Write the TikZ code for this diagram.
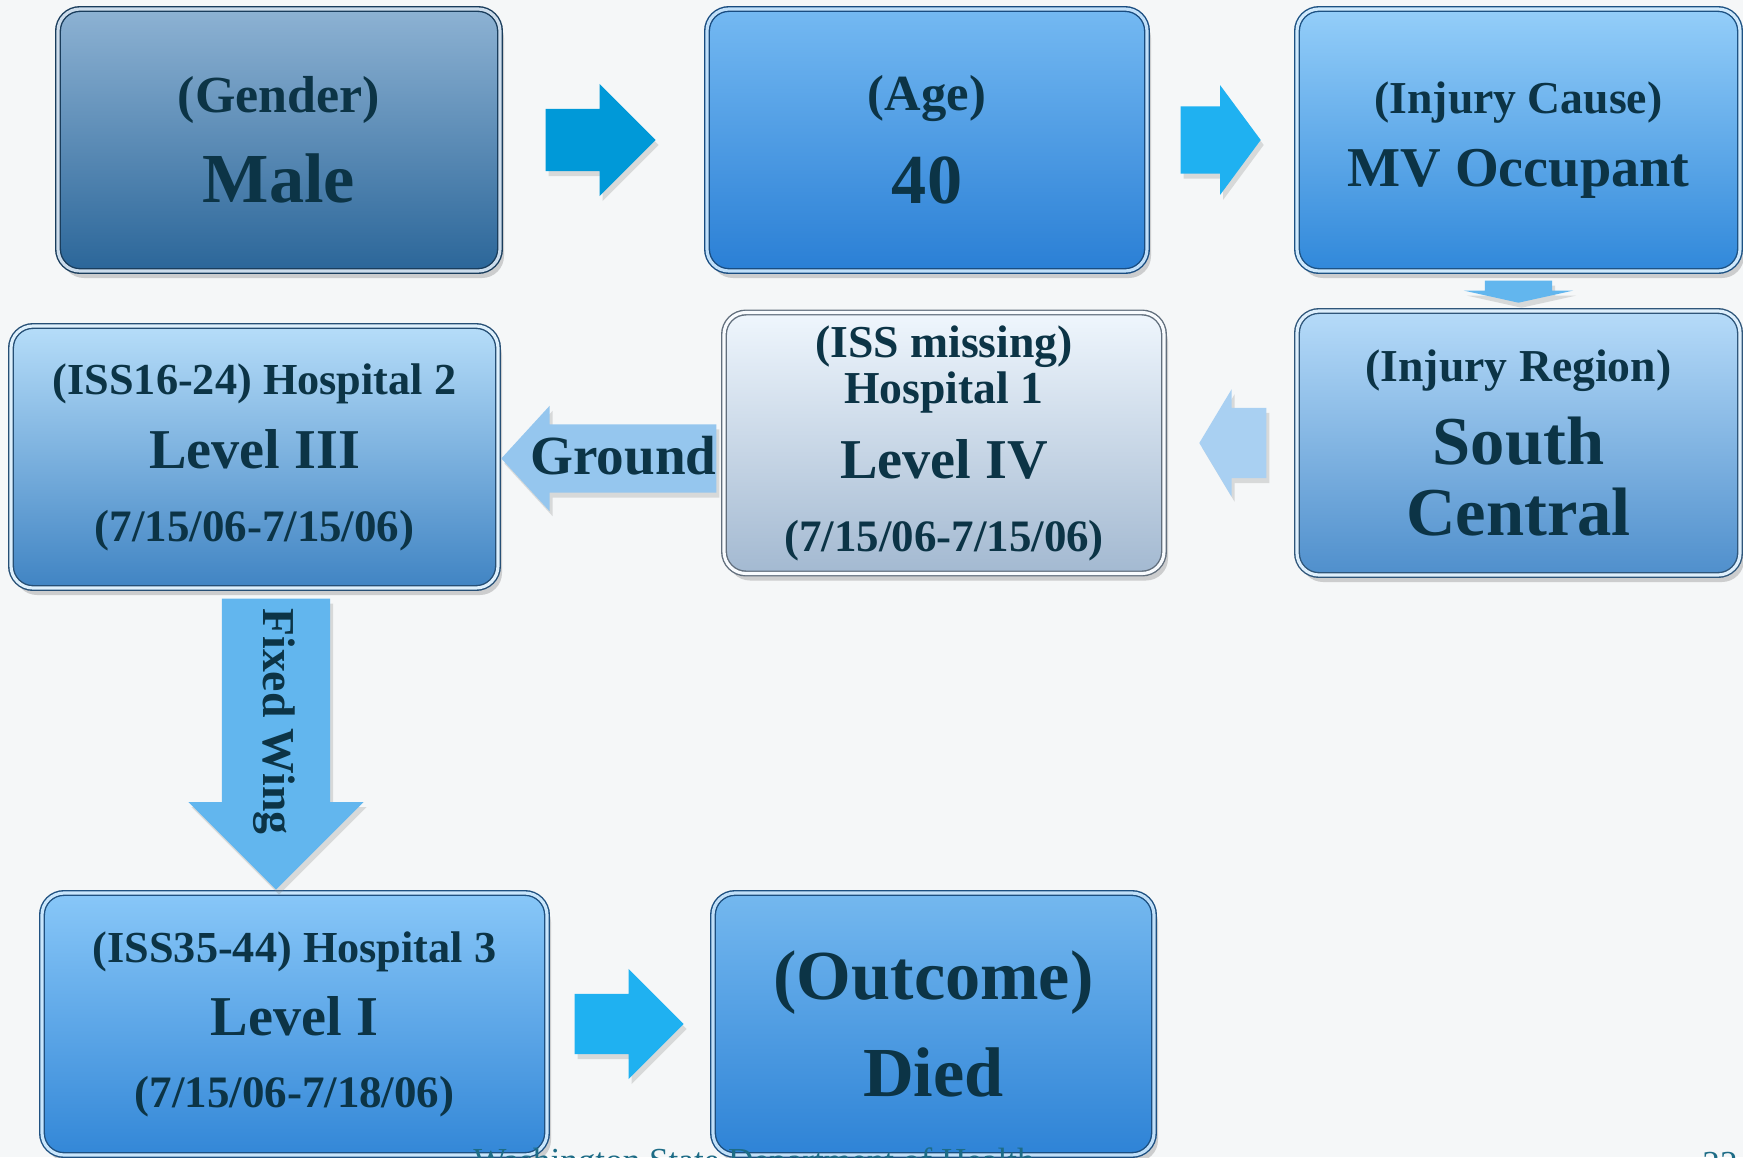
\documentclass[tikz,border=0pt]{standalone}
\usepackage{fontspec}
\setmainfont{Liberation Serif}
\usepackage{tikz}
\usetikzlibrary{shapes,arrows,positioning,shadows}
\usepackage{xcolor}

\definecolor{textdark}{HTML}{0C3446}
\definecolor{footteal}{HTML}{1D6C86}
\definecolor{pagebg}{HTML}{F5F7F8}
\definecolor{genderlight}{HTML}{8DB2D3}
\definecolor{genderdark}{HTML}{2B6699}
\definecolor{agelight}{HTML}{74B9F2}
\definecolor{agedark}{HTML}{2A7FD5}
\definecolor{causelight}{HTML}{94CEF9}
\definecolor{causedark}{HTML}{3088DA}
\definecolor{regionlight}{HTML}{B6DBF9}
\definecolor{regiondark}{HTML}{4F8FCC}
\definecolor{hosponelight}{HTML}{EFF6FD}
\definecolor{hosponedark}{HTML}{A3B9D1}
\definecolor{hosptwolight}{HTML}{B6DDF9}
\definecolor{hosptwodark}{HTML}{4084C3}
\definecolor{hospthreelight}{HTML}{88C7F8}
\definecolor{hospthreedark}{HTML}{3387D7}
\definecolor{outcomelight}{HTML}{74B8EF}
\definecolor{outcomedark}{HTML}{2E83D6}
\definecolor{arrowdeep}{HTML}{0099D8}
\definecolor{arrowbright}{HTML}{1FB1F1}
\definecolor{arrowsoft}{HTML}{62B6EE}
\definecolor{arrowpale}{HTML}{A9D0F2}
\definecolor{arrowground}{HTML}{95C6EE}

\begin{document}
\begin{tikzpicture}[
        node distance=6.48cm,
        box/.style 2 args={rectangle, rounded corners=0.22cm, minimum height=2.62cm, top color=#1, bottom color=#2, draw=#2!60!black, line width=0.4pt, double=#1!45!white, double distance=0.9pt, align=center, text=textdark, font=\bfseries, drop shadow={opacity=0.35, shadow xshift=0.04cm, shadow yshift=-0.07cm}},
        barrow/.style={single arrow, draw=none, inner xsep=0pt, outer sep=0pt, fill=#1, drop shadow={opacity=0.25, shadow xshift=0.03cm, shadow yshift=-0.05cm}},
        arrowtext/.style={text=textdark, font=\fontsize{15.7}{18}\selectfont\bfseries, inner sep=0pt},
        footer/.style={text=footteal, font=\fontsize{10}{12}\selectfont, inner sep=0pt}
    ]
    \useasboundingbox (0,0) rectangle (17.43,-11.57);
    \fill[pagebg] (0,0) rectangle (17.43,-11.57);

    \node [box={genderlight}{genderdark}, minimum width=4.42cm] at (2.79,-1.40) (gender) {{\fontsize{14.8}{17}\selectfont (Gender)}\\[7.5pt]{\fontsize{20}{24}\selectfont Male}};
    \node [box={agelight}{agedark}, minimum width=4.40cm, right of=gender] (age) {{\fontsize{14.4}{17}\selectfont (Age)}\\[9pt]{\fontsize{20}{24}\selectfont 40}};
    \node [box={causelight}{causedark}, minimum width=4.43cm, right of=age, node distance=5.915cm] (cause) {{\fontsize{13}{16}\selectfont (Injury Cause)}\\[6.5pt]{\fontsize{16}{19}\selectfont MV Occupant}};
    \node [box={regionlight}{regiondark}, minimum width=4.43cm, minimum height=2.64cm, below of=cause, node distance=3.03cm] (region) {{\fontsize{13}{16}\selectfont (Injury Region)}\\[6pt]{\fontsize{19.5}{20}\selectfont South}\\[5.5pt]{\fontsize{19.5}{20}\selectfont Central}};
    \node [box={hosponelight}{hosponedark}, minimum width=4.40cm, minimum height=2.61cm, left of=region, node distance=5.745cm] (hospone) {{\fontsize{13}{14}\selectfont (ISS missing)}\\[1.3pt]{\fontsize{13}{14}\selectfont Hospital 1}\\[6.5pt]{\fontsize{16}{19}\selectfont Level IV}\\[8.5pt]{\fontsize{12.8}{16}\selectfont (7/15/06-7/15/06)}};
    \node [box={hosptwolight}{hosptwodark}, minimum width=4.87cm, left of=hospone, node distance=6.895cm, yshift=-0.14cm] (hosptwo) {{\fontsize{12.6}{16}\selectfont (ISS16-24) Hospital 2}\\[6.5pt]{\fontsize{16}{19}\selectfont Level III}\\[8.5pt]{\fontsize{12.8}{16}\selectfont (7/15/06-7/15/06)}};
    \node [box={hospthreelight}{hospthreedark}, minimum width=5.05cm, below of=hosptwo, node distance=5.67cm, xshift=0.4cm] (hospthree) {{\fontsize{12.6}{16}\selectfont (ISS35-44) Hospital 3}\\[6pt]{\fontsize{16}{19}\selectfont Level I}\\[8.5pt]{\fontsize{12.8}{16}\selectfont (7/15/06-7/18/06)}};
    \node [box={outcomelight}{outcomedark}, minimum width=4.41cm, right of=hospthree, node distance=6.39cm] (outcome) {{\fontsize{20}{24}\selectfont (Outcome)}\\[8.5pt]{\fontsize{20}{24}\selectfont Died}};

    % block arrows between the boxes
    \node [barrow=arrowdeep, inner ysep=0.305cm, minimum height=1.10cm, minimum width=1.11cm, single arrow head extend=0.25cm, single arrow tip angle=90, right=0.45cm of gender, anchor=tail] (toage) {};
    \node [barrow=arrowbright, inner ysep=0.33cm, minimum height=0.80cm, minimum width=1.08cm, single arrow head extend=0.21cm, single arrow tip angle=107, right=0.33cm of age, anchor=tail] (tocause) {};
    \node [barrow=arrowsoft, inner xsep=0.33cm, inner ysep=0pt, minimum height=0.22cm, minimum width=1.08cm, single arrow head extend=0.21cm, single arrow tip angle=155, shape border rotate=270, below=0.09cm of cause, anchor=tail] (toregion) {};
    \node [barrow=arrowpale, inner ysep=0.345cm, minimum height=0.67cm, minimum width=1.06cm, single arrow head extend=0.185cm, single arrow tip angle=118, shape border rotate=180, left=0.30cm of region, anchor=tail] (tohospone) {};
    \node [barrow=arrowground, inner ysep=0.335cm, minimum height=2.15cm, minimum width=1.04cm, single arrow head extend=0.185cm, single arrow tip angle=95, shape border rotate=180, left=0.07cm of hospone, anchor=tail, yshift=-0.155cm] (ground) {};
    \node [barrow=arrowsoft, inner xsep=0.535cm, inner ysep=0pt, minimum height=2.91cm, minimum width=1.74cm, single arrow head extend=0.335cm, single arrow tip angle=90, shape border rotate=270, below=0.10cm of hosptwo, anchor=tail, xshift=0.215cm] (fixedwing) {};
    \node [barrow=arrowbright, inner ysep=0.295cm, minimum height=1.09cm, minimum width=1.09cm, single arrow head extend=0.25cm, single arrow tip angle=90, right=0.27cm of hospthree, anchor=tail] (tooutcome) {};

    \node [arrowtext, xshift=-0.01cm, yshift=0.03cm] at (ground) (groundlabel) {Ground};
    \node [arrowtext, font=\fontsize{13}{16}\selectfont\bfseries, xshift=-0.02cm, yshift=-0.045cm, rotate=-90] at (fixedwing) (winglabel) {Fixed Wing};

    % footer of the slide
    \node [footer] at (7.54,-11.64) (foot) {Washington State Department of Health};
    \node [footer] at (17.20,-11.64) (pagenum) {22};
\end{tikzpicture}
\end{document}
